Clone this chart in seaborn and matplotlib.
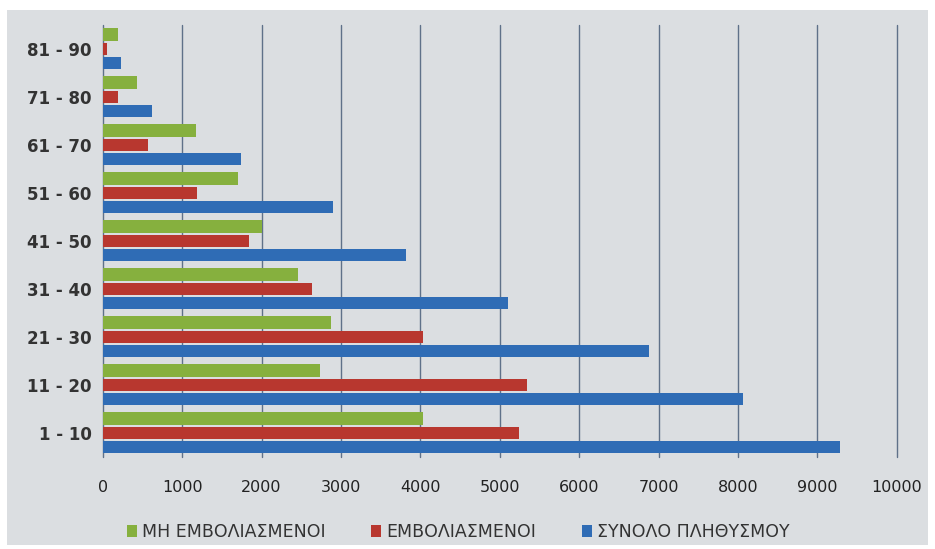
import matplotlib
matplotlib.use("Agg")
import matplotlib.pyplot as plt
import seaborn as sns
import pandas as pd
from matplotlib.patches import Patch, Rectangle

categories = ["81 - 90", "71 - 80", "61 - 70", "51 - 60", "41 - 50",
              "31 - 40", "21 - 30", "11 - 20", "1 - 10"]
series_names = ["ΜΗ ΕΜΒΟΛΙΑΣΜΕΝΟΙ", "ΕΜΒΟΛΙΑΣΜΕΝΟΙ", "ΣΥΝΟΛΟ ΠΛΗΘΥΣΜΟΥ"]
unvaccinated = [190, 430, 1170, 1700, 2000, 2460, 2870, 2730, 4030]
vaccinated = [50, 190, 570, 1180, 1840, 2630, 4030, 5340, 5240]
total = [230, 620, 1740, 2900, 3820, 5100, 6880, 8070, 9280]
x_ticks = [0, 1000, 2000, 3000, 4000, 5000, 6000, 7000, 8000, 9000, 10000]

colors = ["#86B03E", "#B8372F", "#2F6CB5"]

rows = []
for name, vals in zip(series_names, [unvaccinated, vaccinated, total]):
    for c, v in zip(categories, vals):
        rows.append({"age": c, "series": name, "value": v})
df = pd.DataFrame(rows)

sns.set_style("white")
plt.rcParams["font.family"] = ["DejaVu Sans"]

fig = plt.figure(figsize=(9.35, 5.49), dpi=100)
fig.patch.set_facecolor("white")
bg = "#DBDEE1"
fig.patches.append(Rectangle((7 / 935, 4 / 549), 921 / 935, 535 / 549,
                             transform=fig.transFigure, facecolor=bg,
                             edgecolor="none", zorder=-10))

ax = fig.add_axes([0.110, 0.168, 0.849, 0.787])
ax.set_facecolor(bg)

sns.barplot(data=df, x="value", y="age", hue="series", order=categories,
            hue_order=series_names, palette=colors, orient="h",
            width=0.88, gap=0.12, saturation=1, legend=False,
            linewidth=0, edgecolor="none", ax=ax)

ax.set_xlim(0, 10000)
ax.set_ylim(8.5, -0.5)
ax.set_xticks(x_ticks)
ax.set_xticklabels([str(t) for t in x_ticks], fontsize=11.5, color="#222222")
ax.set_yticks(range(len(categories)))
ax.set_yticklabels(categories, fontsize=12, fontweight="bold", color="#333333")
ax.tick_params(axis="x", length=0, pad=17)
ax.tick_params(axis="y", length=0, pad=8)
ax.set_xlabel("")
ax.set_ylabel("")
for s in ax.spines.values():
    s.set_visible(False)
ax.grid(axis="x", color="#5F7189", linewidth=1.0)
for gl in ax.get_xgridlines():
    gl.set_clip_on(False)
ax.set_axisbelow(True)

handles = [Patch(facecolor=c, edgecolor="none") for c in colors]
fig.legend(handles, series_names, loc="center", bbox_to_anchor=(0.49, 0.031),
           ncol=3, frameon=False, fontsize=12.5, handlelength=0.6,
           handleheight=0.7, handletextpad=0.3, columnspacing=2.6,
           labelcolor="#333333")

fig.savefig("out.png", dpi=100, facecolor="white")
